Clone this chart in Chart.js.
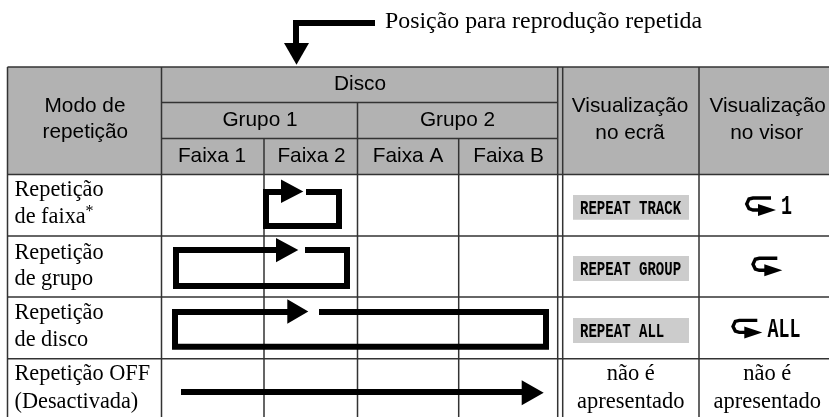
<!DOCTYPE html>
<html lang="pt">
<head>
<meta charset="utf-8">
<title>Posição para reprodução repetida</title>
<style>html,body{margin:0;padding:0;background:#fff}canvas{display:block}</style>
<script src="https://cdn.jsdelivr.net/npm/chart.js@4"></script>
</head>
<body>
<canvas id="c" width="829" height="417"></canvas>
<script>
// --- diagram space equals the 829 x 417 picture ---
const headerColor = '#b2b2b2', boxColor = '#cccccc', ruleColor = '#333333', ink = '#000000';

// table rules: [position, from, to]
const rowRules = [[67,7.5,829],[102.5,161.5,557.7],[138.5,161.5,557.7],[174.5,7.5,829],[236,7.5,829],[297,7.5,829],[358.7,7.5,829]];
const colRules = [[7.5,67,417],[161.5,67,417],[264,138.5,417],[357.5,102.5,417],[458.7,138.5,417],[557.7,67,417],[562.7,67,417],[699,67,417]];
const headerBand = [[7.5,67],[829,67],[829,174.5],[7.5,174.5],[7.5,67]];

// display boxes
const displayBoxes = [[573,689,195,219.7],[573,689,256,281],[573,689,318,343]];

// flow arrows: stroke path then arrow head
const pointerPath = [[375,23],[296,23],[296,44]];
const pointerHead = [[284,43],[309,43],[296.5,64.7]];
const trackPath = [[306,192],[339,192],[339,226],[266,226],[266,192],[283,192]];
const trackHead = [[281,179.5],[281,203],[303.3,191.5]];
const groupPath = [[305,250],[347,250],[347,286],[176,286],[176,250],[278,250]];
const groupHead = [[276,238],[276,262.3],[298.3,250]];
const discPath = [[319,312],[546,312],[546,346.7],[175,346.7],[175,312],[289,312]];
const discHead = [[287.3,299.3],[287.3,323.7],[308.3,311.5]];
const offPath = [[181,392],[523,392]];
const offHead = [[521.7,380.3],[521.7,405.3],[543.7,392.8]];

// repeat icon
const hookPath = [[771,198],[753,198],[749,199],[746.7,204],[749,208.7],[753,210],[761,210]];
const hookHead = [[758,204],[758,216],[776,210]];
const iconOffsets = [[0,0],[6.3,60.3],[-13.7,122.4]];

// texts
const titleText = 'Posição para reprodução repetida';
const sansHeaders = [
  ['Disco',360,90],['Grupo 1',260,126],['Grupo 2',457.5,126],
  ['Faixa 1',212,162],['Faixa 2',311.5,162],['Faixa A',408,162],['Faixa B',508.5,162],
  ['Modo de',85,111.5],['repetição',85.3,137.5],
  ['Visualização',630,112],['no ecrã',630,139],
  ['Visualização',767.7,112],['no visor',766.7,139]
];
const rowLabels = [
  ['Repetição',14.5,196],['de faixa',14.5,222.7],
  ['Repetição',14.5,258.7],['de grupo',14.5,285.3],
  ['Repetição',14.5,318.7],['de disco',14.5,346.3],
  ['Repetição OFF',14.5,380.3],['(Desactivada)',14.5,407.7]
];
const footnoteMark = ['*',85.5,216];
const notShown = [['não é',630.7,380.3],['apresentado',630.7,408],['não é',767.3,380.3],['apresentado',767.3,408]];
const displayTexts = [['REPEAT TRACK',580,213.5],['REPEAT GROUP',580,275],['REPEAT ALL',580,337]];
const iconTexts = [['1',781,214],['ALL',767.5,337.3]];

const toPts = p => p.map(([x,y]) => ({x,y}));
const sets = [];
const area = (pts,color) => sets.push({data:toPts(pts),showLine:true,borderWidth:0,borderColor:color,backgroundColor:color,fill:'shape',pointRadius:0,tension:0});
const stroke = (pts,width,color,cap) => sets.push({data:toPts(pts),showLine:true,borderWidth:width,borderColor:color,borderCapStyle:cap||'butt',borderJoinStyle:'miter',fill:false,pointRadius:0,tension:0});
const head = pts => area([...pts,pts[0]],ink);

area(headerBand,headerColor);
displayBoxes.forEach(([x0,x1,y0,y1]) => area([[x0,y0],[x1,y0],[x1,y1],[x0,y1],[x0,y0]],boxColor));
rowRules.forEach(([y,a,b]) => stroke([[a,y],[b,y]],1.5,ruleColor));
colRules.forEach(([x,a,b]) => stroke([[x,a],[x,b]],1.5,ruleColor));
[[pointerPath,pointerHead],[trackPath,trackHead],[groupPath,groupHead],[discPath,discHead],[offPath,offHead]]
  .forEach(([p,h]) => { stroke(p,6,ink); head(h); });
iconOffsets.forEach(([dx,dy]) => {
  const mv = a => a.map(([x,y]) => [x+dx,y+dy]);
  stroke(mv(hookPath),3.4,ink);
  head(mv(hookHead));
});
sets.forEach((d,i) => d.order = -i);

const textPlugin = {
  id:'texts',
  afterDraw(chart){
    const {ctx,scales:{x,y}} = chart;
    const put = (t,px,py,font,align,sx) => {
      ctx.save();
      ctx.font = font; ctx.fillStyle = ink; ctx.textAlign = align||'left'; ctx.textBaseline = 'alphabetic';
      ctx.translate(x.getPixelForValue(px),y.getPixelForValue(py));
      if (sx) ctx.scale(sx,1);
      ctx.fillText(t,0,0);
      ctx.restore();
    };
    const serif = '"Liberation Serif"', sans = '"Liberation Sans"', mono = '"Liberation Mono"';
    put(titleText,385,28,'23.85px '+serif);
    sansHeaders.forEach(([t,a,b]) => put(t,a,b,'20.8px '+sans,'center'));
    rowLabels.forEach(([t,a,b]) => put(t,a,b,'22.3px '+serif));
    put(footnoteMark[0],footnoteMark[1],footnoteMark[2],'16px '+serif);
    notShown.forEach(([t,a,b]) => put(t,a,b,'22.5px '+serif,'center'));
    displayTexts.forEach(([t,a,b]) => put(t,a,b,'bold 19.5px '+mono,'left',0.72));
    iconTexts.forEach(([t,a,b]) => put(t,a,b,'bold 27px '+mono,'left',0.68));
  }
};

new Chart(document.getElementById('c'),{
  type:'scatter',
  data:{datasets:sets},
  options:{
    responsive:false,animation:false,
    layout:{padding:0},
    plugins:{legend:{display:false},tooltip:{enabled:false}},
    events:[],
    scales:{
      x:{type:'linear',display:false,min:0,max:829},
      y:{type:'linear',display:false,min:0,max:417,reverse:true}
    }
  },
  plugins:[textPlugin]
});
</script>
</body>
</html>
